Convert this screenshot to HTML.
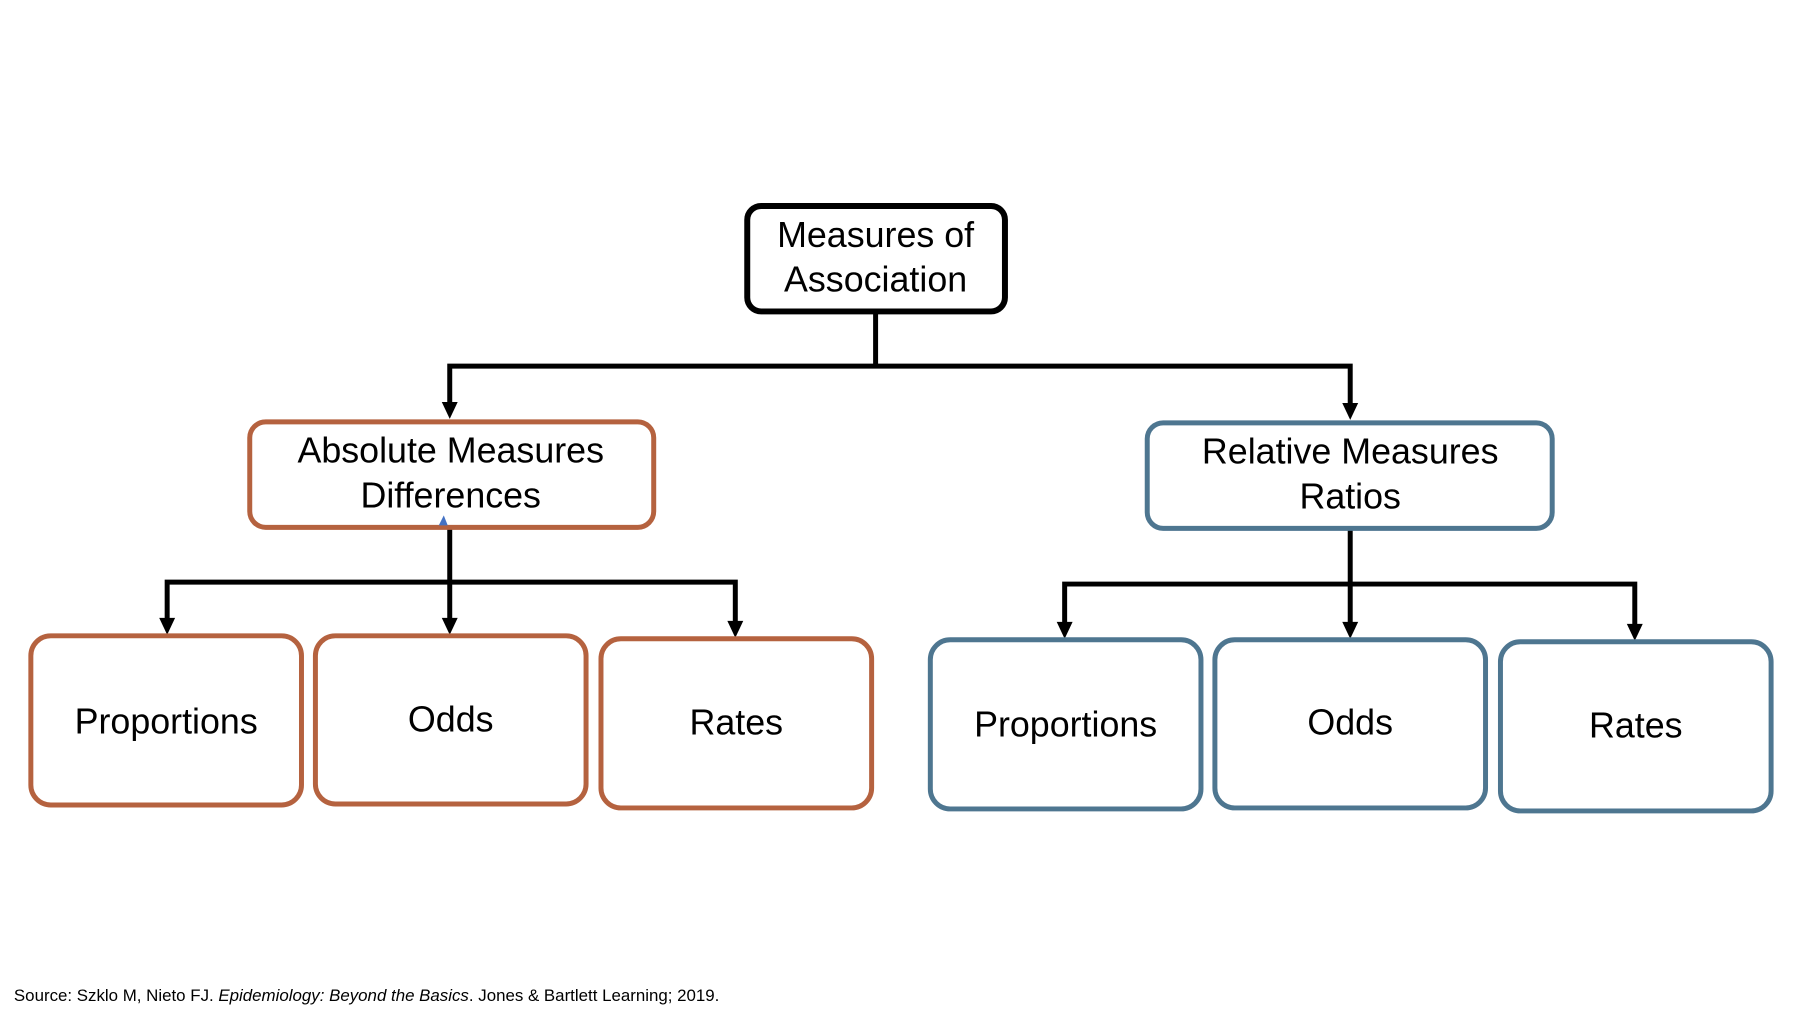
<!DOCTYPE html>
<html><head><meta charset="utf-8"><style>
html,body{margin:0;padding:0;background:#fff;}
svg{display:block;}
text{font-family:"Liberation Sans",sans-serif;fill:#000;}
</style></head><body>
<svg width="1801" height="1013" viewBox="0 0 1801 1013" xmlns="http://www.w3.org/2000/svg">
<g transform="scale(0.995)">
<g stroke="#000" stroke-width="5" fill="none">
<polyline points="880,313 880,368"/>
<polyline points="452,407 452,368 1357,368 1357,407"/>
<polyline points="452,530 452,585"/>
<polyline points="168,624 168,585 739,585 739,626"/>
<line x1="452" y1="585" x2="452" y2="624"/>
<polyline points="1357,531 1357,587"/>
<polyline points="1070,627 1070,587 1643,587 1643,629"/>
<line x1="1357" y1="587" x2="1357" y2="627"/>
</g>
<g fill="#000">
<polygon points="444,404 460,404 452,421"/>
<polygon points="1349,405 1365,405 1357,422"/>
<polygon points="160,621 176,621 168,638"/>
<polygon points="444,621 460,621 452,638"/>
<polygon points="731,624 747,624 739,641"/>
<polygon points="1062,625 1078,625 1070,642"/>
<polygon points="1349,625 1365,625 1357,642"/>
<polygon points="1635,627 1651,627 1643,644"/>
</g>
<rect x="751" y="207" width="259" height="106" rx="14" fill="#fff" stroke="#000" stroke-width="6"/>
<g fill="#fff" stroke="#B5623F" stroke-width="5">
<rect x="251" y="424" width="406" height="106" rx="16"/>
<rect x="31" y="639" width="272" height="170" rx="20"/>
<rect x="317" y="639" width="272" height="169" rx="20"/>
<rect x="604" y="642" width="272" height="170" rx="20"/>
</g>
<polygon points="441,528 446,518 450,528" fill="#4472C4"/>
<g fill="#fff" stroke="#4E7690" stroke-width="5">
<rect x="1153" y="425" width="407" height="106" rx="16"/>
<rect x="935" y="643" width="272" height="170" rx="20"/>
<rect x="1221" y="643" width="272" height="169" rx="20"/>
<rect x="1508" y="645" width="272" height="170" rx="20"/>
</g>
<g font-size="36" text-anchor="middle">
<text x="880" y="248">Measures of</text>
<text x="880" y="293">Association</text>
<text x="453" y="465">Absolute Measures</text>
<text x="453" y="510">Differences</text>
<text x="1357" y="466">Relative Measures</text>
<text x="1357" y="511">Ratios</text>
<text x="167" y="737">Proportions</text>
<text x="453" y="735">Odds</text>
<text x="740" y="738">Rates</text>
<text x="1071" y="740">Proportions</text>
<text x="1357" y="738">Odds</text>
<text x="1644" y="741">Rates</text>
</g>
<text x="14" y="1006" font-size="17" textLength="709" lengthAdjust="spacingAndGlyphs">Source: Szklo M, Nieto FJ. <tspan font-style="italic">Epidemiology: Beyond the Basics</tspan>. Jones &amp; Bartlett Learning; 2019.</text>
</g>
</svg>
</body></html>
